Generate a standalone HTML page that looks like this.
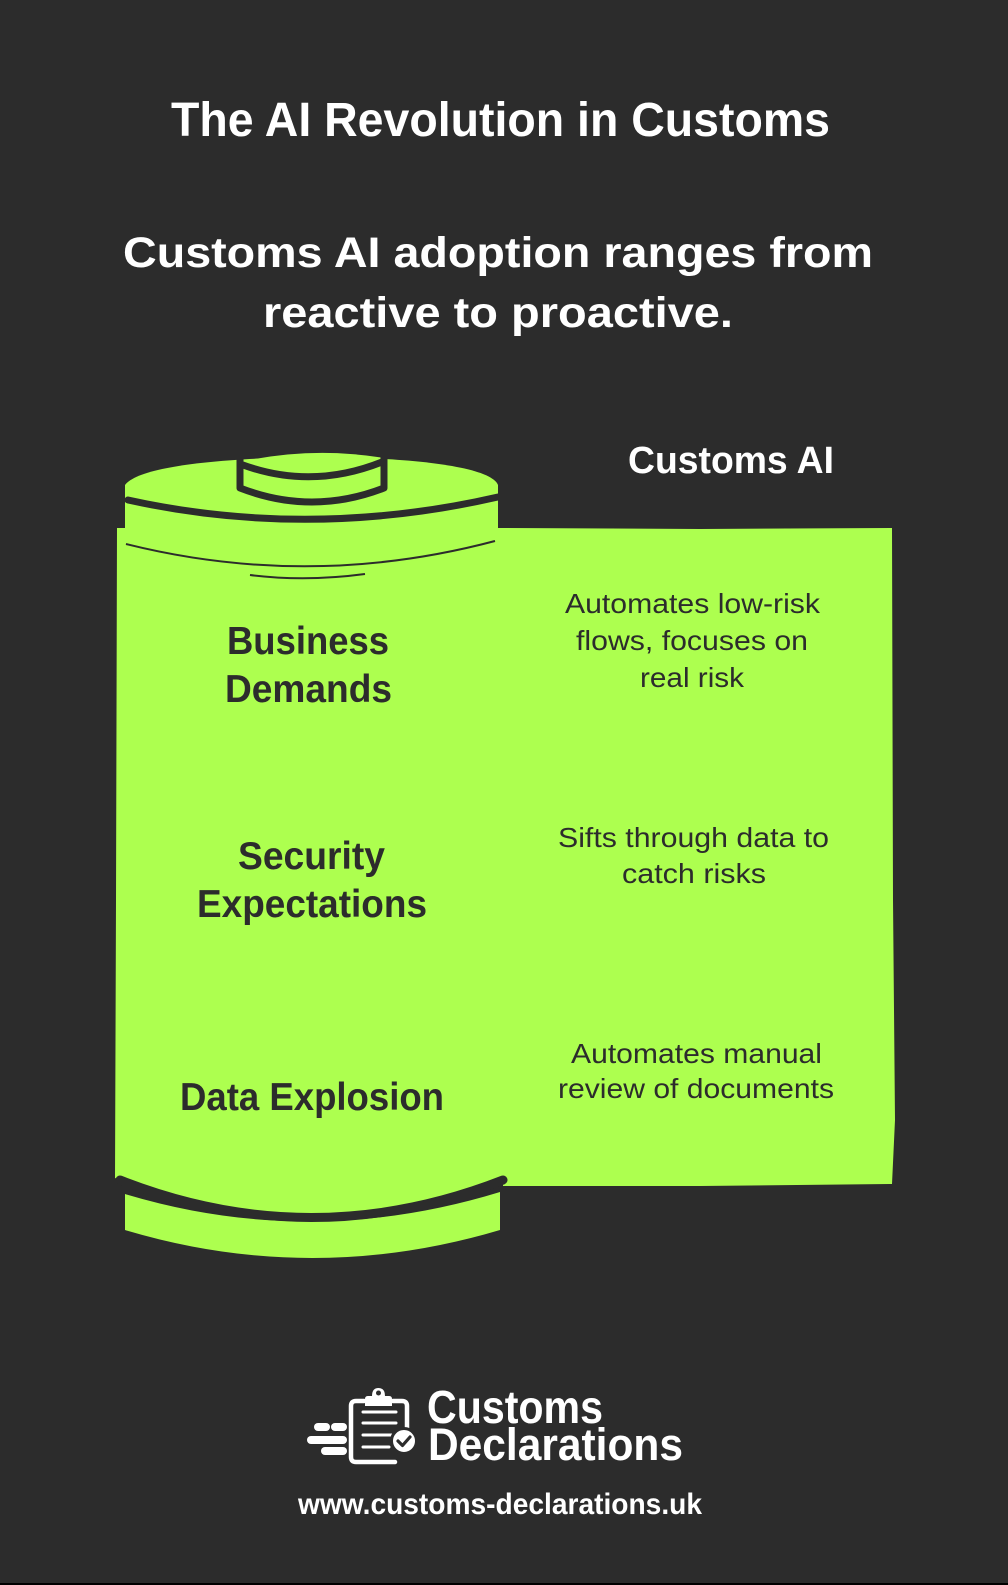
<!DOCTYPE html>
<html>
<head>
<meta charset="utf-8">
<style>
  html, body { margin: 0; padding: 0; background: #2c2c2c; }
  body { width: 1008px; height: 1585px; overflow: hidden; }
  svg { display: block; }
  .t { font-family: "Liberation Sans", Arial, sans-serif; }
</style>
</head>
<body>
<svg width="1008" height="1585" viewBox="0 0 1008 1585" xmlns="http://www.w3.org/2000/svg">
  <rect x="0" y="0" width="1008" height="1585" fill="#2c2c2c"/>
  <rect x="0" y="1583" width="1008" height="2" fill="#000"/>

  <!-- Titles -->
  <g class="t" fill="#ffffff" font-weight="bold">
    <text x="171" y="136" font-size="48" textLength="659" lengthAdjust="spacingAndGlyphs">The AI Revolution in Customs</text>
    <text x="123" y="267" font-size="43" textLength="750" lengthAdjust="spacingAndGlyphs">Customs AI adoption ranges from</text>
    <text x="263" y="327" font-size="43" textLength="470" lengthAdjust="spacingAndGlyphs">reactive to proactive.</text>
    <text x="628" y="473" font-size="38" textLength="206" lengthAdjust="spacingAndGlyphs">Customs AI</text>
  </g>

  <!-- Green body + right panel -->
  <path d="M117 528 L500 528 L700 529 L892 528 L893 900 L895 1120 L892 1184 L700 1186 L503 1186 L503 1180 Q311 1255 120 1180 L115 1178 L116 900 Z" fill="#adff4f"/>

  <!-- Bottom band of cylinder -->
  <path d="M125 1194 Q311 1250 500 1192 L500 1230 Q312 1286 125 1230 Z" fill="#adff4f"/>
  <!-- Bottom stroke -->
  <path d="M120 1180 Q311 1255 503 1180" fill="none" stroke="#2c2c2c" stroke-width="9" stroke-linecap="round"/>

  <!-- Lid -->
  <path d="M125 485 C140 465 230 458 312 457 C400 457 490 465 498 485 L498 540 Q310 600 125 544 Z" fill="#adff4f"/>
  <!-- Lid front stroke -->
  <path d="M128 500 Q310 540 498 497" fill="none" stroke="#2c2c2c" stroke-width="7" stroke-linecap="round"/>
  <!-- Lid bottom hairlines -->
  <path d="M126 544 Q310 590 495 541" fill="none" stroke="#2c2c2c" stroke-width="2"/>
  <path d="M250 575 Q305 582 365 574" fill="none" stroke="#2c2c2c" stroke-width="2"/>

  <!-- Knob -->
  <path d="M240 462 Q312 446 384 458 L384 488 Q312 516 240 488 Z" fill="#adff4f"/>
  <path d="M240 458 L240 488 Q312 516 384 488 L384 456" fill="none" stroke="#2c2c2c" stroke-width="7" stroke-linecap="round" stroke-linejoin="round"/>
  <path d="M243 465 Q312 490 382 462" fill="none" stroke="#2c2c2c" stroke-width="7" stroke-linecap="round"/>

  <!-- Left labels -->
  <g class="t" fill="#2c2c2c" font-weight="bold" font-size="39">
    <text x="227" y="654" textLength="162" lengthAdjust="spacingAndGlyphs">Business</text>
    <text x="225" y="702" textLength="167" lengthAdjust="spacingAndGlyphs">Demands</text>
    <text x="238" y="869" textLength="147" lengthAdjust="spacingAndGlyphs">Security</text>
    <text x="197" y="917" textLength="230" lengthAdjust="spacingAndGlyphs">Expectations</text>
    <text x="180" y="1110" textLength="264" lengthAdjust="spacingAndGlyphs">Data Explosion</text>
  </g>

  <!-- Right descriptions -->
  <g class="t" fill="#2c2c2c" font-size="28">
    <text x="565" y="613" textLength="255" lengthAdjust="spacingAndGlyphs">Automates low-risk</text>
    <text x="576" y="650" textLength="232" lengthAdjust="spacingAndGlyphs">flows, focuses on</text>
    <text x="640" y="687" textLength="104" lengthAdjust="spacingAndGlyphs">real risk</text>
    <text x="558" y="847" textLength="271" lengthAdjust="spacingAndGlyphs">Sifts through data to</text>
    <text x="622" y="883" textLength="144" lengthAdjust="spacingAndGlyphs">catch risks</text>
    <text x="571" y="1063" textLength="251" lengthAdjust="spacingAndGlyphs">Automates manual</text>
    <text x="558" y="1098" textLength="276" lengthAdjust="spacingAndGlyphs">review of documents</text>
  </g>

  <!-- Logo icon -->
  <g fill="none" stroke="#ffffff" stroke-linecap="round">
    <!-- clipboard body -->
    <path d="M364 1401 L356 1401 Q351 1401 351 1406 L351 1457 Q351 1462 356 1462 L395 1462" stroke-width="4.5"/>
    <path d="M393 1401 L402 1401 Q407 1401 407 1406 L407 1428" stroke-width="4.5"/>
    <!-- lines -->
    <line x1="363" y1="1412" x2="396" y2="1412" stroke-width="3"/>
    <line x1="363" y1="1423" x2="396" y2="1423" stroke-width="3"/>
    <line x1="363" y1="1435" x2="392" y2="1435" stroke-width="3"/>
    <line x1="363" y1="1447" x2="389" y2="1447" stroke-width="3"/>
    <!-- speed lines -->
    <line x1="318" y1="1427" x2="326" y2="1427" stroke-width="8"/>
    <line x1="335" y1="1427" x2="343" y2="1427" stroke-width="8"/>
    <line x1="311" y1="1440" x2="343" y2="1440" stroke-width="8"/>
    <line x1="325" y1="1451" x2="343" y2="1451" stroke-width="8"/>
  </g>
  <!-- clip tab -->
  <path d="M365 1406 L365 1399 Q365 1396 368 1396 L372 1396 Q372 1388 378.5 1388 Q385 1388 385 1396 L389 1396 Q392 1396 392 1399 L392 1406 Z" fill="#ffffff"/>
  <circle cx="378.5" cy="1393" r="2.5" fill="#2c2c2c"/>
  <!-- check circle -->
  <circle cx="404" cy="1441" r="12.5" fill="#ffffff" stroke="#2c2c2c" stroke-width="3"/>
  <path d="M398 1441 L402.5 1445.5 L410 1437" fill="none" stroke="#2c2c2c" stroke-width="3.2" stroke-linecap="round" stroke-linejoin="round"/>

  <!-- Logo text -->
  <g class="t" fill="#ffffff" font-weight="bold">
    <text x="427" y="1423" font-size="46" textLength="176" lengthAdjust="spacingAndGlyphs">Customs</text>
    <text x="428" y="1460" font-size="45" textLength="255" lengthAdjust="spacingAndGlyphs">Declarations</text>
    <text x="298" y="1514" font-size="30" textLength="404" lengthAdjust="spacingAndGlyphs">www.customs-declarations.uk</text>
  </g>
</svg>
</body>
</html>
